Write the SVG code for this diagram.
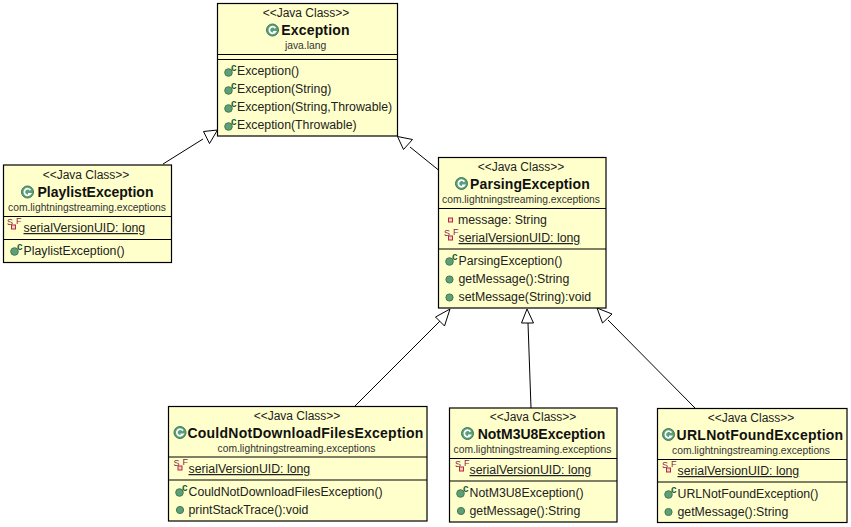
<svg xmlns="http://www.w3.org/2000/svg" width="851" height="527" viewBox="0 0 851 527">
<style>
text{font-family:"Liberation Sans",Arial,sans-serif;fill:#111}
.box{fill:#ffffcc;stroke:#000;stroke-width:1.2}
.sep{stroke:#000;stroke-width:1.1;fill:none}
.st{font-size:12px;text-anchor:middle;fill:#222}
.nm{font-size:14px;font-weight:bold;text-anchor:middle}
.pk{font-size:10.3px;text-anchor:middle;fill:#333}
.m{font-size:12.3px;fill:#222}
.u{text-decoration:underline}
.ci{fill:#5f9f76;stroke:#3d7a55;stroke-width:1}
.ad{font-size:10px;font-weight:bold;fill:#1c5c38}
.sf{font-size:9px;fill:#8a1c3c}
.line{stroke:#000;stroke-width:1;fill:none}
.head{fill:#fff;stroke:#000;stroke-width:1}
</style>
<defs>
<g id="cls"><circle r="6" fill="#5b9f79" stroke="#3d7a5a" stroke-width="1"/><path d="M2.900-1.800A3.300 3.300 0 1 0 2.900 1.800H0.500" fill="none" stroke="#fff" stroke-width="1.700"/></g>
<g id="pub"><circle r="3.600" class="ci"/></g>
<g id="ctor"><circle cx="-1.500" cy="1.500" r="3.800" class="ci"/><text x="1" y="-0.500" class="ad">c</text></g>
<g id="sfi"><rect x="-1.500" y="-1" width="4" height="4" fill="#f6d0c8" stroke="#b52a3a"/><text x="-6" y="-1" class="sf">S</text><text x="3" y="-2" class="sf">F</text></g>
<g id="priv"><rect x="-2" y="-2" width="4" height="4" fill="#f6d0c8" stroke="#b52a3a"/></g>
</defs>

<g id="connectors">
<path class="line" d="M163 164L203 139"/><path class="head" d="M217.500 130L203.500 131.500L209.500 143.500Z"/>
<path class="line" d="M438.500 170L410 147"/><path class="head" d="M397.500 136.500L403.500 149.500L412.500 139.500Z"/>
<path class="line" d="M355 406L440 321"/><path class="head" d="M450 309L435.500 317L444.500 326Z"/>
<path class="line" d="M531 408L528 323"/><path class="head" d="M527 309L521.500 323L533.500 323Z"/>
<path class="line" d="M695 408L608 320"/><path class="head" d="M597 308L602.500 323L612 314Z"/>
</g>

<g id="node-exception">
<rect class="box" x="217.500" y="3.500" width="180" height="132.500"/>
<path class="sep" d="M217.500 54.500H397.500M217.500 59.500H397.500"/>
<text class="st" x="306" y="17">&lt;&lt;Java Class&gt;&gt;</text>
<use href="#cls" x="272.500" y="30"/>
<text class="nm" x="315.500" y="35" style="letter-spacing:.15px">Exception</text>
<text class="pk" x="305.500" y="49">java.lang</text>
<use href="#ctor" x="230" y="71"/><text class="m" x="237" y="75">Exception()</text>
<use href="#ctor" x="230" y="89"/><text class="m" x="237" y="93">Exception(String)</text>
<use href="#ctor" x="230" y="107"/><text class="m" x="237" y="111">Exception(String,Throwable)</text>
<use href="#ctor" x="230" y="125"/><text class="m" x="237" y="129">Exception(Throwable)</text>
</g>

<g id="node-playlist">
<rect class="box" x="3.500" y="165" width="168" height="97.500"/>
<path class="sep" d="M3.500 216.500H171.500M3.500 239.500H171.500"/>
<text class="st" x="86" y="179">&lt;&lt;Java Class&gt;&gt;</text>
<use href="#cls" x="27.500" y="192"/>
<text class="nm" x="95.500" y="197">PlaylistException</text>
<text class="pk" x="87" y="211">com.lightningstreaming.exceptions</text>
<use href="#sfi" x="13" y="226"/><text class="m u" x="23.500" y="232">serialVersionUID: long</text>
<use href="#ctor" x="16" y="250"/><text class="m" x="23.500" y="255">PlaylistException()</text>
</g>

<g id="node-parsing">
<rect class="box" x="438.500" y="157.500" width="167.500" height="150.500"/>
<path class="sep" d="M438.500 208.500H606M438.500 249H606"/>
<text class="st" x="521" y="171">&lt;&lt;Java Class&gt;&gt;</text>
<use href="#cls" x="461.500" y="183.500"/>
<text class="nm" x="530" y="189" style="letter-spacing:.1px">ParsingException</text>
<text class="pk" x="521" y="203">com.lightningstreaming.exceptions</text>
<use href="#priv" x="450.500" y="220"/><text class="m" x="458" y="224">message: String</text>
<use href="#sfi" x="450" y="237"/><text class="m u" x="458.500" y="242">serialVersionUID: long</text>
<use href="#ctor" x="451" y="260"/><text class="m" x="458.500" y="265">ParsingException()</text>
<use href="#pub" x="449.500" y="279.500"/><text class="m" x="458.500" y="283">getMessage():String</text>
<use href="#pub" x="449.500" y="297.500"/><text class="m" x="458.500" y="301">setMessage(String):void</text>
</g>

<g id="node-couldnot">
<rect class="box" x="168.500" y="406.500" width="258.500" height="114.500"/>
<path class="sep" d="M168.500 457H427M168.500 480H427"/>
<text class="st" x="297" y="420">&lt;&lt;Java Class&gt;&gt;</text>
<use href="#cls" x="180" y="432.500"/>
<text class="nm" x="305.500" y="438" style="letter-spacing:.25px">CouldNotDownloadFilesException</text>
<text class="pk" x="296.500" y="452">com.lightningstreaming.exceptions</text>
<use href="#sfi" x="179.500" y="467"/><text class="m u" x="188.500" y="473">serialVersionUID: long</text>
<use href="#ctor" x="181" y="491"/><text class="m" x="188.500" y="496">CouldNotDownloadFilesException()</text>
<use href="#pub" x="180" y="510"/><text class="m" x="188.500" y="514">printStackTrace():void</text>
</g>

<g id="node-notm3u8">
<rect class="box" x="449.500" y="408" width="167.500" height="114"/>
<path class="sep" d="M449.500 458.500H617M449.500 481H617"/>
<text class="st" x="533" y="421">&lt;&lt;Java Class&gt;&gt;</text>
<use href="#cls" x="467.500" y="433.500"/>
<text class="nm" x="541.500" y="439">NotM3U8Exception</text>
<text class="pk" x="532.500" y="453">com.lightningstreaming.exceptions</text>
<use href="#sfi" x="461" y="468"/><text class="m u" x="469.500" y="474">serialVersionUID: long</text>
<use href="#ctor" x="462" y="492"/><text class="m" x="469.500" y="497">NotM3U8Exception()</text>
<use href="#pub" x="461" y="511"/><text class="m" x="469.500" y="515">getMessage():String</text>
</g>

<g id="node-urlnotfound">
<rect class="box" x="657.500" y="408.500" width="189.500" height="114"/>
<path class="sep" d="M657.500 459.500H847M657.500 482H847"/>
<text class="st" x="751" y="422">&lt;&lt;Java Class&gt;&gt;</text>
<use href="#cls" x="668.500" y="434.500"/>
<text class="nm" x="760" y="440" style="letter-spacing:.25px">URLNotFoundException</text>
<text class="pk" x="751" y="454">com.lightningstreaming.exceptions</text>
<use href="#sfi" x="668" y="469"/><text class="m u" x="677.500" y="475">serialVersionUID: long</text>
<use href="#ctor" x="670" y="493"/><text class="m" x="677.500" y="498">URLNotFoundException()</text>
<use href="#pub" x="668.500" y="512"/><text class="m" x="677.500" y="516">getMessage():String</text>
</g>
</svg>
